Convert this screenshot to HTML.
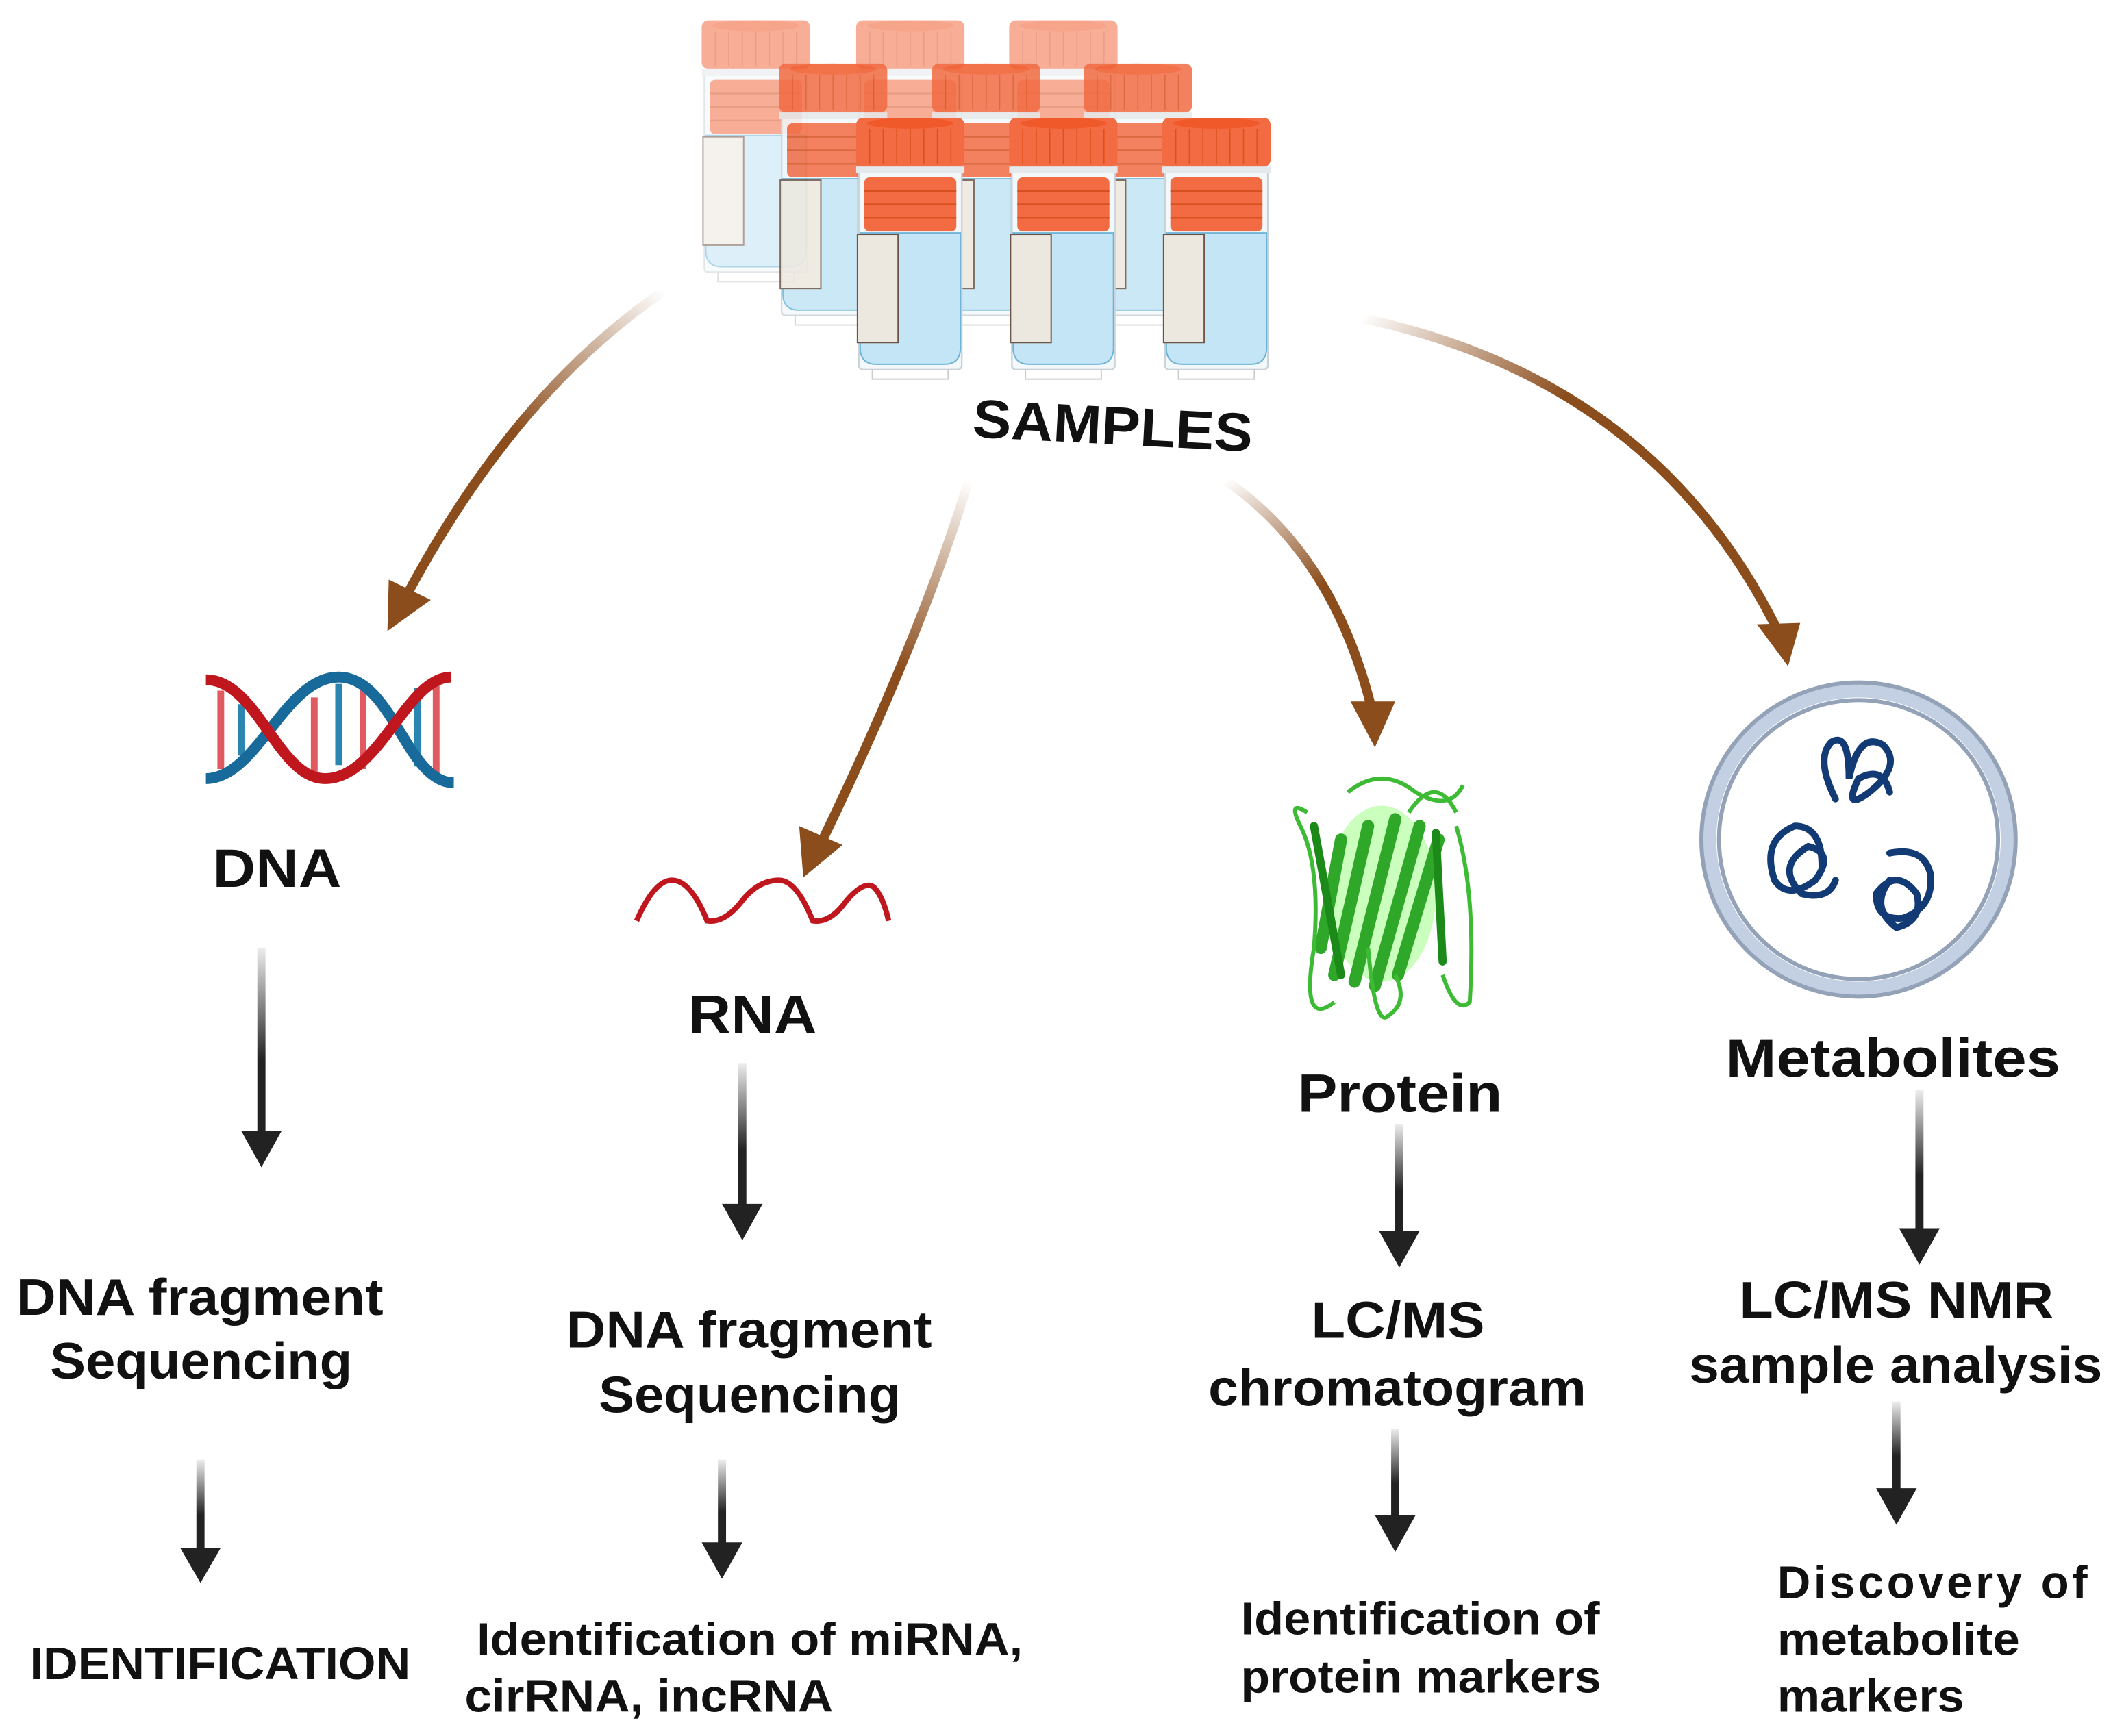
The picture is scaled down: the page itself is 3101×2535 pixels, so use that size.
<!DOCTYPE html>
<html><head><meta charset="utf-8"><style>
html,body{margin:0;padding:0;background:#fff;}
svg{display:block;}
text{font-family:"Liberation Sans",Arial,sans-serif;font-weight:bold;fill:#111;}
</style></head><body>
<svg width="3101" height="2535" viewBox="0 0 1568 1282" preserveAspectRatio="none" xmlns="http://www.w3.org/2000/svg">
<defs>
<g id="vial">
  <rect x="2" y="36" width="76" height="150" rx="3" fill="#f3f8fb" stroke="#c9d3d9" stroke-width="1.2"/>
  <path d="M3 85 H77 V170 Q77 182 65 182 H15 Q3 182 3 170 Z" fill="#c3e5f5" stroke="#6fb4d6" stroke-width="1"/>
  <rect x="1" y="86" width="30" height="80" fill="#ede8df" stroke="#6b5548" stroke-width="1"/>
  <rect x="6" y="44" width="68" height="40" rx="4" fill="#f26b42"/>
  <g stroke="#d4501f" stroke-width="1.2"><line x1="6" y1="54" x2="74" y2="54"/><line x1="6" y1="64" x2="74" y2="64"/><line x1="6" y1="74" x2="74" y2="74"/></g>
  <rect x="0" y="0" width="80" height="36" rx="5" fill="#f26b42"/>
  <ellipse cx="40" cy="4" rx="32" ry="4" fill="#f05a2b"/>
  <g stroke="#d9521f" stroke-width="0.8"><line x1="10" y1="8" x2="10" y2="34"/><line x1="20" y1="8" x2="20" y2="34"/><line x1="30" y1="8" x2="30" y2="34"/><line x1="40" y1="8" x2="40" y2="34"/><line x1="50" y1="8" x2="50" y2="34"/><line x1="60" y1="8" x2="60" y2="34"/><line x1="70" y1="8" x2="70" y2="34"/></g>
  <rect x="0" y="36" width="80" height="5" fill="#e6e9eb"/>
  <path d="M12 186 V193 H68 V186" fill="none" stroke="#ccc" stroke-width="1"/>
</g>
<linearGradient id="b1" gradientUnits="userSpaceOnUse" x1="490" y1="215" x2="300" y2="450"><stop offset="0" stop-color="#8b4d1c" stop-opacity="0"/><stop offset="0.5" stop-color="#8b4d1c"/></linearGradient>
<linearGradient id="b2" gradientUnits="userSpaceOnUse" x1="715" y1="355" x2="605" y2="630"><stop offset="0" stop-color="#8b4d1c" stop-opacity="0"/><stop offset="0.5" stop-color="#8b4d1c"/></linearGradient>
<linearGradient id="b3" gradientUnits="userSpaceOnUse" x1="905" y1="355" x2="1015" y2="530"><stop offset="0" stop-color="#8b4d1c" stop-opacity="0"/><stop offset="0.5" stop-color="#8b4d1c"/></linearGradient>
<linearGradient id="b4" gradientUnits="userSpaceOnUse" x1="1005" y1="235" x2="1312" y2="470"><stop offset="0" stop-color="#8b4d1c" stop-opacity="0"/><stop offset="0.4" stop-color="#8b4d1c"/></linearGradient>
<linearGradient id="g" x1="0" y1="0" x2="0" y2="1"><stop offset="0" stop-color="#222" stop-opacity="0.08"/><stop offset="0.6" stop-color="#222"/></linearGradient>
</defs>

<!-- vials -->
<g opacity="0.55">
 <use href="#vial" transform="translate(518,15)"/>
 <use href="#vial" transform="translate(632,15)"/>
 <use href="#vial" transform="translate(745,15)"/>
</g>
<g opacity="0.85">
 <use href="#vial" transform="translate(575,47)"/>
 <use href="#vial" transform="translate(688,47)"/>
 <use href="#vial" transform="translate(800,47)"/>
</g>
<use href="#vial" transform="translate(632,87)"/>
<use href="#vial" transform="translate(745,87)"/>
<use href="#vial" transform="translate(858,87)"/>

<text x="718" y="328" font-size="40" textLength="207" lengthAdjust="spacingAndGlyphs" transform="rotate(3 820 315)">SAMPLES</text>

<!-- brown arrows -->
<g fill="none" stroke-width="7" stroke-linecap="round">
 <path d="M490 215 Q380 290 300 440" stroke="url(#b1)"/>
 <path d="M715 355 Q680 470 605 625" stroke="url(#b2)"/>
 <path d="M905 355 Q985 410 1013 525" stroke="url(#b3)"/>
 <path d="M1005 235 Q1220 280 1312 465" stroke="url(#b4)"/>
</g>
<g fill="#8b4d1c">
 <polygon points="286,466 287,428 318,443"/>
 <polygon points="593,648 590,610 622,624"/>
 <polygon points="1015,552 997,518 1030,518"/>
 <polygon points="1320,492 1297,461 1329,460"/>
</g>

<!-- DNA helix -->
<g stroke-width="5">
 <line x1="163" y1="510" x2="163" y2="568" stroke="#e05a60"/>
 <line x1="178" y1="520" x2="178" y2="558" stroke="#2a85b0"/>
 <line x1="232" y1="515" x2="232" y2="570" stroke="#e05a60"/>
 <line x1="250" y1="505" x2="250" y2="565" stroke="#2a85b0"/>
 <line x1="268" y1="508" x2="268" y2="568" stroke="#e05a60"/>
 <line x1="308" y1="508" x2="308" y2="566" stroke="#2a85b0"/>
 <line x1="322" y1="505" x2="322" y2="572" stroke="#e05a60"/>
</g>
<path d="M152 575 C190 575 210 500 250 500 C290 500 300 578 335 578" fill="none" stroke="#176a9a" stroke-width="8"/>
<path d="M152 502 C190 502 205 575 240 575 C280 575 300 500 333 500" fill="none" stroke="#c0161e" stroke-width="8"/>

<!-- RNA wave -->
<path d="M470 680 Q483 650 496 650 Q510 650 522 680 Q535 682 548 665 Q560 650 575 650 Q588 650 600 680 Q613 682 625 665 Q638 650 645 655 Q652 662 656 680" fill="none" stroke="#c0161e" stroke-width="4"/>

<!-- protein -->
<g>
 <ellipse cx="1020" cy="660" rx="40" ry="65" fill="#66ff44" opacity="0.35"/>
 <g stroke="#2fa82a" stroke-width="9" stroke-linecap="round">
  <line x1="985" y1="720" x2="1010" y2="610"/>
  <line x1="1000" y1="725" x2="1030" y2="605"/>
  <line x1="1015" y1="728" x2="1048" y2="610"/>
  <line x1="1032" y1="720" x2="1062" y2="620"/>
  <line x1="975" y1="700" x2="990" y2="620"/>
 </g>
 <g stroke="#1c8a18" stroke-width="6" stroke-linecap="round">
  <line x1="970" y1="610" x2="990" y2="720"/>
  <line x1="1060" y1="615" x2="1065" y2="710"/>
 </g>
 <g fill="none" stroke="#3dbb34" stroke-width="3">
  <path d="M965 600 Q950 590 960 610 Q975 640 970 700 Q960 760 985 740"/>
  <path d="M995 585 Q1020 565 1045 585 Q1070 600 1080 580"/>
  <path d="M1010 700 Q1015 760 1025 750 Q1040 740 1030 720"/>
  <path d="M1075 610 Q1090 660 1085 740 Q1075 750 1065 720"/>
  <path d="M1040 600 Q1060 570 1075 600"/>
 </g>
</g>

<!-- metabolites circle -->
<circle cx="1372" cy="620" r="110" fill="#fff" stroke="#c3d0e3" stroke-width="10"/>
<circle cx="1372" cy="620" r="116" fill="none" stroke="#94a2b8" stroke-width="3"/>
<circle cx="1372" cy="620" r="103" fill="none" stroke="#94a2b8" stroke-width="3"/>
<g fill="none" stroke="#123a74" stroke-width="5" stroke-linecap="round">
 <path d="M1355 590 Q1340 560 1352 548 Q1365 540 1365 575 Q1372 540 1390 550 Q1405 565 1380 585 Q1360 600 1372 575 Q1390 565 1395 585"/>
 <path d="M1345 640 Q1345 610 1325 610 Q1300 620 1310 650 Q1320 665 1340 650 Q1355 630 1335 625 Q1310 640 1330 660 Q1350 665 1355 650"/>
 <path d="M1395 630 Q1420 625 1425 645 Q1428 670 1405 678 Q1385 680 1385 660 Q1400 640 1415 660 Q1420 680 1400 685 Q1380 670 1395 650"/>
</g>

<!-- dark arrows -->
<g fill="url(#g)">
 <rect x="190" y="700" width="6" height="138"/>
 <rect x="145" y="1078" width="6" height="68"/>
 <rect x="545" y="785" width="6" height="107"/>
 <rect x="530" y="1078" width="6" height="64"/>
 <rect x="1030" y="830" width="6" height="82"/>
 <rect x="1027" y="1055" width="6" height="67"/>
 <rect x="1414" y="805" width="6" height="105"/>
 <rect x="1397" y="1035" width="6" height="67"/>
</g>
<g fill="#222">
 <polygon points="178,835 208,835 193,862"/>
 <polygon points="133,1143 163,1143 148,1169"/>
 <polygon points="533,889 563,889 548,916"/>
 <polygon points="518,1139 548,1139 533,1166"/>
 <polygon points="1018,909 1048,909 1033,936"/>
 <polygon points="1015,1119 1045,1119 1030,1146"/>
 <polygon points="1402,907 1432,907 1417,934"/>
 <polygon points="1385,1099 1415,1099 1400,1126"/>
</g>

<!-- text labels -->
<g font-size="40" lengthAdjust="spacingAndGlyphs">
 <text x="157" y="655" textLength="95" lengthAdjust="spacingAndGlyphs">DNA</text>
 <text x="508" y="763" textLength="95" lengthAdjust="spacingAndGlyphs">RNA</text>
 <text x="958" y="821" textLength="151" lengthAdjust="spacingAndGlyphs">Protein</text>
 <text x="1274" y="795" textLength="247" lengthAdjust="spacingAndGlyphs">Metabolites</text>
</g>
<g font-size="38">
 <text x="12" y="971" textLength="271" lengthAdjust="spacingAndGlyphs">DNA fragment</text>
 <text x="37" y="1018" textLength="223" lengthAdjust="spacingAndGlyphs">Sequencing</text>
 <text x="418" y="995" textLength="270" lengthAdjust="spacingAndGlyphs">DNA fragment</text>
 <text x="442" y="1043" textLength="223" lengthAdjust="spacingAndGlyphs">Sequencing</text>
 <text x="968" y="988" textLength="128" lengthAdjust="spacingAndGlyphs">LC/MS</text>
 <text x="892" y="1038" textLength="279" lengthAdjust="spacingAndGlyphs">chromatogram</text>
 <text x="1284" y="973" textLength="232" lengthAdjust="spacingAndGlyphs">LC/MS NMR</text>
 <text x="1247" y="1021" textLength="305" lengthAdjust="spacingAndGlyphs">sample analysis</text>
</g>
<g font-size="34">
 <text x="22" y="1240" textLength="281" lengthAdjust="spacingAndGlyphs">IDENTIFICATION</text>
 <text x="352" y="1222" textLength="403" lengthAdjust="spacingAndGlyphs">Identification of miRNA,</text>
 <text x="343" y="1264" textLength="272" lengthAdjust="spacingAndGlyphs">cirRNA,  incRNA</text>
 <text x="916" y="1207" textLength="265" lengthAdjust="spacingAndGlyphs">Identification of</text>
 <text x="916" y="1250" textLength="266" lengthAdjust="spacingAndGlyphs">protein markers</text>
 <text x="1312" y="1180" textLength="229" lengthAdjust="spacing">Discovery   of</text>
 <text x="1312" y="1222" textLength="179" lengthAdjust="spacingAndGlyphs">metabolite</text>
 <text x="1312" y="1264" textLength="138" lengthAdjust="spacingAndGlyphs">markers</text>
</g>
</svg>
</body></html>
